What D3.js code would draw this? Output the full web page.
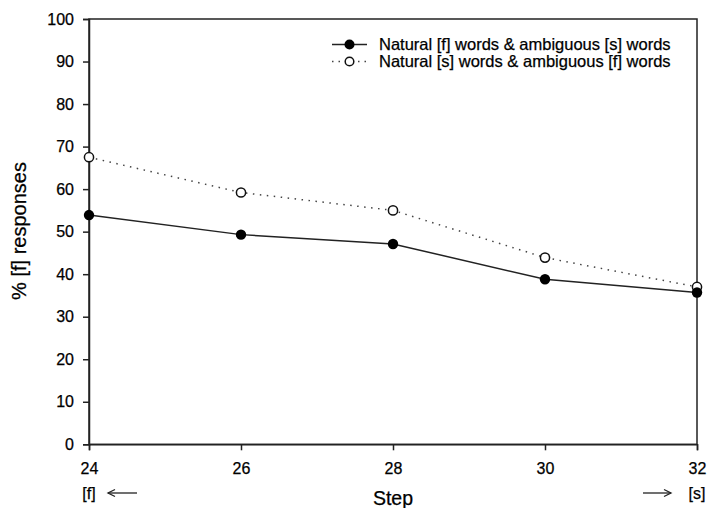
<!DOCTYPE html>
<html><head><meta charset="utf-8">
<script src="https://cdn.jsdelivr.net/npm/d3@7"></script>
<style>body{margin:0;background:#fff}svg{display:block;font-family:"Liberation Sans",Arial,sans-serif}</style>
</head><body><svg id="c" width="708" height="508"></svg>
<script>
const steps = [24, 26, 28, 30, 32];
const seriesNames = ["Natural [f] words & ambiguous [s] words", "Natural [s] words & ambiguous [f] words"];
const naturalF = [53.9, 49.3, 47.1, 38.8, 35.7];
const naturalS = [67.5, 59.2, 55.0, 43.9, 37.0];
const yTicks = [0,10,20,30,40,50,60,70,80,90,100];
const xTicks = [24,26,28,30,32];

const svg = d3.select("#c");
const x = d3.scaleLinear().domain([24,32]).range([89,697]);
const y = d3.scaleLinear().domain([0,100]).range([444.3,19]);
const ink = "#000";

// frame
svg.append("rect").attr("x",89).attr("y",19).attr("width",608).attr("height",425.3)
  .attr("fill","none").attr("stroke","#222").attr("stroke-width",1.5);

const ya = svg.append("g").attr("transform","translate(89,0)")
  .call(d3.axisLeft(y).tickValues(yTicks).tickSize(6).tickPadding(9).tickFormat(d3.format("d")));
const xa = svg.append("g").attr("transform","translate(0,444.3)")
  .call(d3.axisBottom(x).tickValues(xTicks).tickSize(6).tickPadding(12).tickFormat(d3.format("d")));
[ya,xa].forEach(a=>{
  a.select(".domain").attr("stroke","#222").attr("stroke-width",1.5);
  a.selectAll(".tick line").attr("stroke","#222").attr("stroke-width",1.5);
  a.selectAll("text").attr("fill",ink).attr("stroke",ink).attr("stroke-width",0.25).style("font-size","16px");
});

const line = d3.line().x((d,i)=>x(steps[i])).y(d=>y(d));
svg.append("path").datum(naturalS).attr("d",line).attr("fill","none")
  .attr("stroke","#444").attr("stroke-width",1.5).attr("stroke-dasharray","1.5,5.5");
svg.append("path").datum(naturalF).attr("d",line).attr("fill","none")
  .attr("stroke","#222").attr("stroke-width",1.5);

svg.selectAll(".ps").data(naturalS).join("circle").attr("class","ps")
  .attr("cx",(d,i)=>x(steps[i])).attr("cy",d=>y(d)).attr("r",4.6)
  .attr("fill","#fff").attr("stroke","#111").attr("stroke-width",1.5);
svg.selectAll(".pf").data(naturalF).join("circle").attr("class","pf")
  .attr("cx",(d,i)=>x(steps[i])).attr("cy",d=>y(d)).attr("r",5.2)
  .attr("fill","#000");

// legend
const lg = svg.append("g");
const rows = [{y:44.5, dash:null, fill:"#000", r:5, name:seriesNames[0]},
              {y:61.5, dash:"1.5,5", fill:"#fff", r:4.3, name:seriesNames[1]}];
rows.forEach(r=>{
  lg.append("line").attr("x1",332).attr("x2",367).attr("y1",r.y).attr("y2",r.y)
    .attr("stroke", r.dash?"#444":"#222").attr("stroke-width",1.5).attr("stroke-dasharray",r.dash);
  lg.append("circle").attr("cx",349.5).attr("cy",r.y).attr("r",r.r).attr("fill",r.fill)
    .attr("stroke","#111").attr("stroke-width",r.dash?1.5:0);
  lg.append("text").attr("x",379).attr("y",r.y).attr("dy","0.35em").attr("fill",ink)
    .attr("stroke",ink).attr("stroke-width",0.25)
    .style("font-size","16.5px").text(r.name);
});

// axis titles
svg.append("text").attr("transform","translate(26,231) rotate(-90)").attr("text-anchor","middle")
  .attr("fill",ink).attr("stroke",ink).attr("stroke-width",0.25).style("font-size","20px").text("% [f] responses");
svg.append("text").attr("x",393).attr("y",505).attr("text-anchor","middle")
  .attr("fill",ink).attr("stroke",ink).attr("stroke-width",0.25).style("font-size","19.5px").text("Step");

// end labels with arrows
svg.append("text").attr("x",89).attr("y",499).attr("text-anchor","middle").attr("fill",ink)
  .attr("stroke",ink).attr("stroke-width",0.25).style("font-size","16px").text("[f]");
svg.append("text").attr("x",697).attr("y",499).attr("text-anchor","middle").attr("fill",ink)
  .attr("stroke",ink).attr("stroke-width",0.25).style("font-size","16px").text("[s]");
function arrow(x1,x2,yy){
  svg.append("line").attr("x1",x1).attr("x2",x2).attr("y1",yy).attr("y2",yy).attr("stroke","#222").attr("stroke-width",1.3);
  const dir = x2>x1?-1:1;
  svg.append("path").attr("d",`M${x2+dir*7},${yy-3.5}L${x2},${yy}L${x2+dir*7},${yy+3.5}`)
    .attr("fill","none").attr("stroke","#222").attr("stroke-width",1.3);
}
arrow(137,108,493);
arrow(643,671,493);
</script></body></html>
